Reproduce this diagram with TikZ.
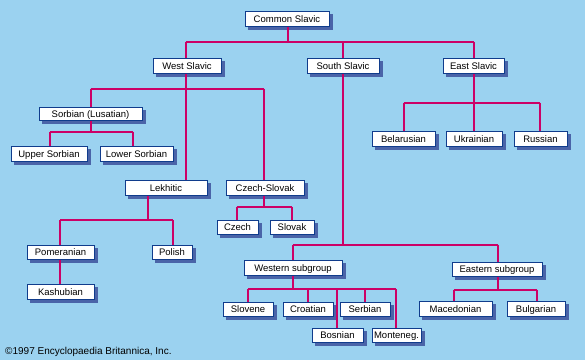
\documentclass[tikz,border=0pt]{standalone}
\usepackage{fontspec}
\setmainfont{Liberation Sans}
\definecolor{bg}{RGB}{155,210,240}
\definecolor{conncol}{RGB}{204,0,102}
\definecolor{edgecol}{RGB}{16,60,140}
\definecolor{shadecol}{RGB}{74,100,168}
\tikzset{
  lbox/.style={draw=edgecol, line width=1pt, fill=white, inner sep=0pt,
    font=\fontsize{9.5}{10}\selectfont, text=black, text height=7.5pt, text depth=0pt},
  lshade/.style={fill=shadecol},
  conn/.style={draw=conncol, line width=2pt}
}
% \lbx{name}{left}{top}{right}{bottom}{text}
\newcommand{\lbx}[6]{%
  \pgfmathsetmacro{\cx}{(#2+#4)/2}\pgfmathsetmacro{\cy}{(#3+#5)/2}%
  \pgfmathsetmacro{\ww}{#4-#2}\pgfmathsetmacro{\hh}{#5-#3}%
  \fill[lshade] (#2+3,#3+3) rectangle (#4+3.5,#5+3.5);
  \node[lbox, minimum width=\ww pt, minimum height=\hh pt] (#1) at (\cx,\cy) {#6};}
\begin{document}
\begin{tikzpicture}[x=1pt,y=-1pt]
\fill[bg] (0,0) rectangle (585,360);
\useasboundingbox (0,0) rectangle (585,360);

% junction coordinates
\coordinate (t0) at (287.7,41.7);
\coordinate (tw) at (185.7,41.7);
\coordinate (ts) at (342.7,41.7);
\coordinate (te) at (473.7,41.7);

\coordinate (w0) at (185.7,88.7);
\coordinate (ws) at (90.7,88.7);
\coordinate (wc) at (264,88.7);

\coordinate (s0) at (90.7,131.7);
\coordinate (su) at (49.7,131.7);
\coordinate (sl) at (133,131.7);

\coordinate (e0) at (473.7,102.7);
\coordinate (eb) at (403.7,102.7);
\coordinate (er) at (540,102.7);

\coordinate (l0) at (147.7,220);
\coordinate (lp) at (60,220);
\coordinate (lo) at (172.7,220);

\coordinate (c0) at (264,206.7);
\coordinate (cc) at (236.7,206.7);
\coordinate (cs) at (292,206.7);

\coordinate (u0) at (342.7,244.7);
\coordinate (uw) at (292.7,244.7);
\coordinate (ue) at (497.7,244.7);

\coordinate (x0) at (292.7,289.3);
\coordinate (xsl) at (248,289.3);
\coordinate (xcr) at (307.7,289.3);
\coordinate (xbo) at (336.7,289.3);
\coordinate (xse) at (364.7,289.3);
\coordinate (xmo) at (396,289.3);

\coordinate (y0) at (497.7,289.7);
\coordinate (yma) at (453.7,289.7);
\coordinate (ybu) at (537,289.7);

% boxes
\lbx{common}{245}{11}{329}{26}{Common Slavic}
\lbx{west}{153}{58}{221}{73}{West Slavic}
\lbx{south}{307}{58}{379}{73}{South Slavic}
\lbx{east}{443}{58}{504}{73}{East Slavic}
\lbx{sorb}{39}{107}{142}{120}{Sorbian (Lusatian)}
\lbx{upper}{11}{146}{87}{161}{Upper Sorbian}
\lbx{lower}{100}{146}{173}{161}{Lower Sorbian}
\lbx{bel}{372}{131}{435}{146}{Belarusian}
\lbx{ukr}{446}{131}{502}{146}{Ukrainian}
\lbx{rus}{514}{131}{567}{146}{Russian}
\lbx{lek}{125}{180}{207}{195}{Lekhitic}
\lbx{czsl}{226}{180}{304}{195}{Czech-Slovak}
\lbx{czech}{217}{220}{258}{234}{Czech}
\lbx{slovak}{270}{220}{314}{234}{Slovak}
\lbx{pom}{27}{245}{94}{259}{Pomeranian}
\lbx{pol}{152}{245}{192}{259}{Polish}
\lbx{kash}{27}{284}{94}{299}{Kashubian}
\lbx{wsub}{244}{260}{342}{275}{Western subgroup}
\lbx{esub}{452}{262}{542}{276}{Eastern subgroup}
\lbx{slovene}{223}{302}{273}{316}{Slovene}
\lbx{croat}{283}{302}{333}{316}{Croatian}
\lbx{serb}{340}{302}{390}{316}{Serbian}
\lbx{bos}{312}{328}{363}{342}{Bosnian}
\lbx{mont}{372}{328}{421}{342}{Monteneg.}
\lbx{mac}{419}{301}{492}{316}{Macedonian}
\lbx{bul}{507}{301}{565}{316}{Bulgarian}

% connectors
\draw[conn] (common.south -| t0) -- (t0);
\draw[conn] (tw) -- (te);
\draw[conn] (tw) -- (tw |- west.north);
\draw[conn] (ts) -- (ts |- south.north);
\draw[conn] (te) -- (te |- east.north);

\draw[conn] (west.south -| w0) -- (w0 |- lek.north);
\draw[conn] (ws) -- (wc);
\draw[conn] (ws) -- (ws |- sorb.north);
\draw[conn] (wc) -- (wc |- czsl.north);

\draw[conn] (sorb.south -| s0) -- (s0);
\draw[conn] (su) -- (sl);
\draw[conn] (su) -- (su |- upper.north);
\draw[conn] (sl) -- (sl |- lower.north);

\draw[conn] (east.south -| e0) -- (e0 |- ukr.north);
\draw[conn] (eb) -- (er);
\draw[conn] (eb) -- (eb |- bel.north);
\draw[conn] (er) -- (er |- rus.north);

\draw[conn] (lek.south -| l0) -- (l0);
\draw[conn] (lp) -- (lo);
\draw[conn] (lp) -- (lp |- pom.north);
\draw[conn] (lo) -- (lo |- pol.north);
\draw[conn] (pom.south -| lp) -- (kash.north -| lp);

\draw[conn] (czsl.south -| c0) -- (c0);
\draw[conn] (cc) -- (cs);
\draw[conn] (cc) -- (cc |- czech.north);
\draw[conn] (cs) -- (cs |- slovak.north);

\draw[conn] (south.south -| u0) -- (u0);
\draw[conn] (uw) -- (ue);
\draw[conn] (uw) -- (uw |- wsub.north);
\draw[conn] (ue) -- (ue |- esub.north);

\draw[conn] (wsub.south -| x0) -- (x0);
\draw[conn] (xsl) -- (xmo);
\draw[conn] (xsl) -- (xsl |- slovene.north);
\draw[conn] (xcr) -- (xcr |- croat.north);
\draw[conn] (xbo) -- (xbo |- bos.north);
\draw[conn] (xse) -- (xse |- serb.north);
\draw[conn] (xmo) -- (xmo |- mont.north);

\draw[conn] (esub.south -| y0) -- (y0);
\draw[conn] (yma) -- (ybu);
\draw[conn] (yma) -- (yma |- mac.north);
\draw[conn] (ybu) -- (ybu |- bul.north);

\node[anchor=base west, inner sep=0pt, font=\fontsize{10}{12}\selectfont] (copy) at (5,354) {©1997 Encyclopaedia Britannica, Inc.};
\end{tikzpicture}
\end{document}
